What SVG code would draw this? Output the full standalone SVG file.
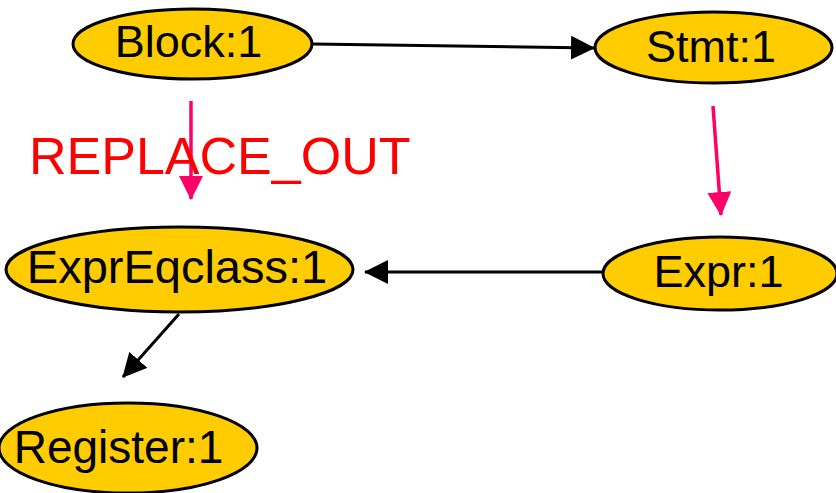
<svg xmlns="http://www.w3.org/2000/svg" width="836" height="493" viewBox="0 0 836 493">
  <style>
    .node ellipse { fill: #ffcc00; stroke: #000; stroke-width: 3; }
    .node text { font-family: "Liberation Sans", Arial, sans-serif; fill: #000; text-anchor: middle; }
    .edge { fill: none; stroke: #000; stroke-width: 3; }
    .edge-hl { fill: none; stroke: #ff0066; stroke-width: 3.5; }
    .label { font-family: "Liberation Sans", Arial, sans-serif; fill: #ff0000; font-size: 52px; }
  </style>
  <defs>
    <marker id="arrow-black" markerUnits="userSpaceOnUse" markerWidth="24" markerHeight="24" viewBox="0 0 24 24" refX="23" refY="12" orient="auto">
      <path d="M0,0 L24,12 L0,24 Z" fill="#000"/>
    </marker>
    <marker id="arrow-pink" markerUnits="userSpaceOnUse" markerWidth="24" markerHeight="24" viewBox="0 0 24 24" refX="23" refY="12" orient="auto">
      <path d="M0,0 L24,12 L0,24 Z" fill="#ff0066"/>
    </marker>
  </defs>

  <!-- connectors -->
  <g id="connectors">
    <line class="edge" x1="313" y1="44" x2="594" y2="48" marker-end="url(#arrow-black)"/>
    <line class="edge" x1="603" y1="272" x2="365" y2="272" marker-end="url(#arrow-black)"/>
    <line class="edge" x1="179" y1="314" x2="123" y2="377" marker-end="url(#arrow-black)"/>
    <line class="edge-hl" x1="191" y1="101" x2="191" y2="199" marker-end="url(#arrow-pink)"/>
    <line class="edge-hl" x1="713" y1="106" x2="721" y2="215" marker-end="url(#arrow-pink)"/>
  </g>

  <!-- nodes -->
  <g id="block" class="node">
    <ellipse cx="192.5" cy="44" rx="119.5" ry="35"/>
    <text x="188.5" y="57" font-size="45">Block:1</text>
  </g>
  <g id="stmt" class="node">
    <ellipse cx="713.5" cy="47.5" rx="118.5" ry="35.5"/>
    <text x="711" y="62" font-size="45">Stmt:1</text>
  </g>
  <g id="expreqclass" class="node">
    <ellipse cx="179.5" cy="269.5" rx="173.5" ry="42.5"/>
    <text x="177" y="283" font-size="47">ExprEqclass:1</text>
  </g>
  <g id="expr" class="node">
    <ellipse cx="720" cy="273.5" rx="117" ry="36.5"/>
    <text x="718.5" y="287" font-size="45">Expr:1</text>
  </g>
  <g id="register" class="node">
    <ellipse cx="128" cy="448" rx="129" ry="45"/>
    <text x="118.5" y="463" font-size="46">Register:1</text>
  </g>

  <!-- annotation on the Block -> ExprEqclass edge -->
  <text class="label" x="29" y="174">REPLACE_OUT</text>
</svg>
